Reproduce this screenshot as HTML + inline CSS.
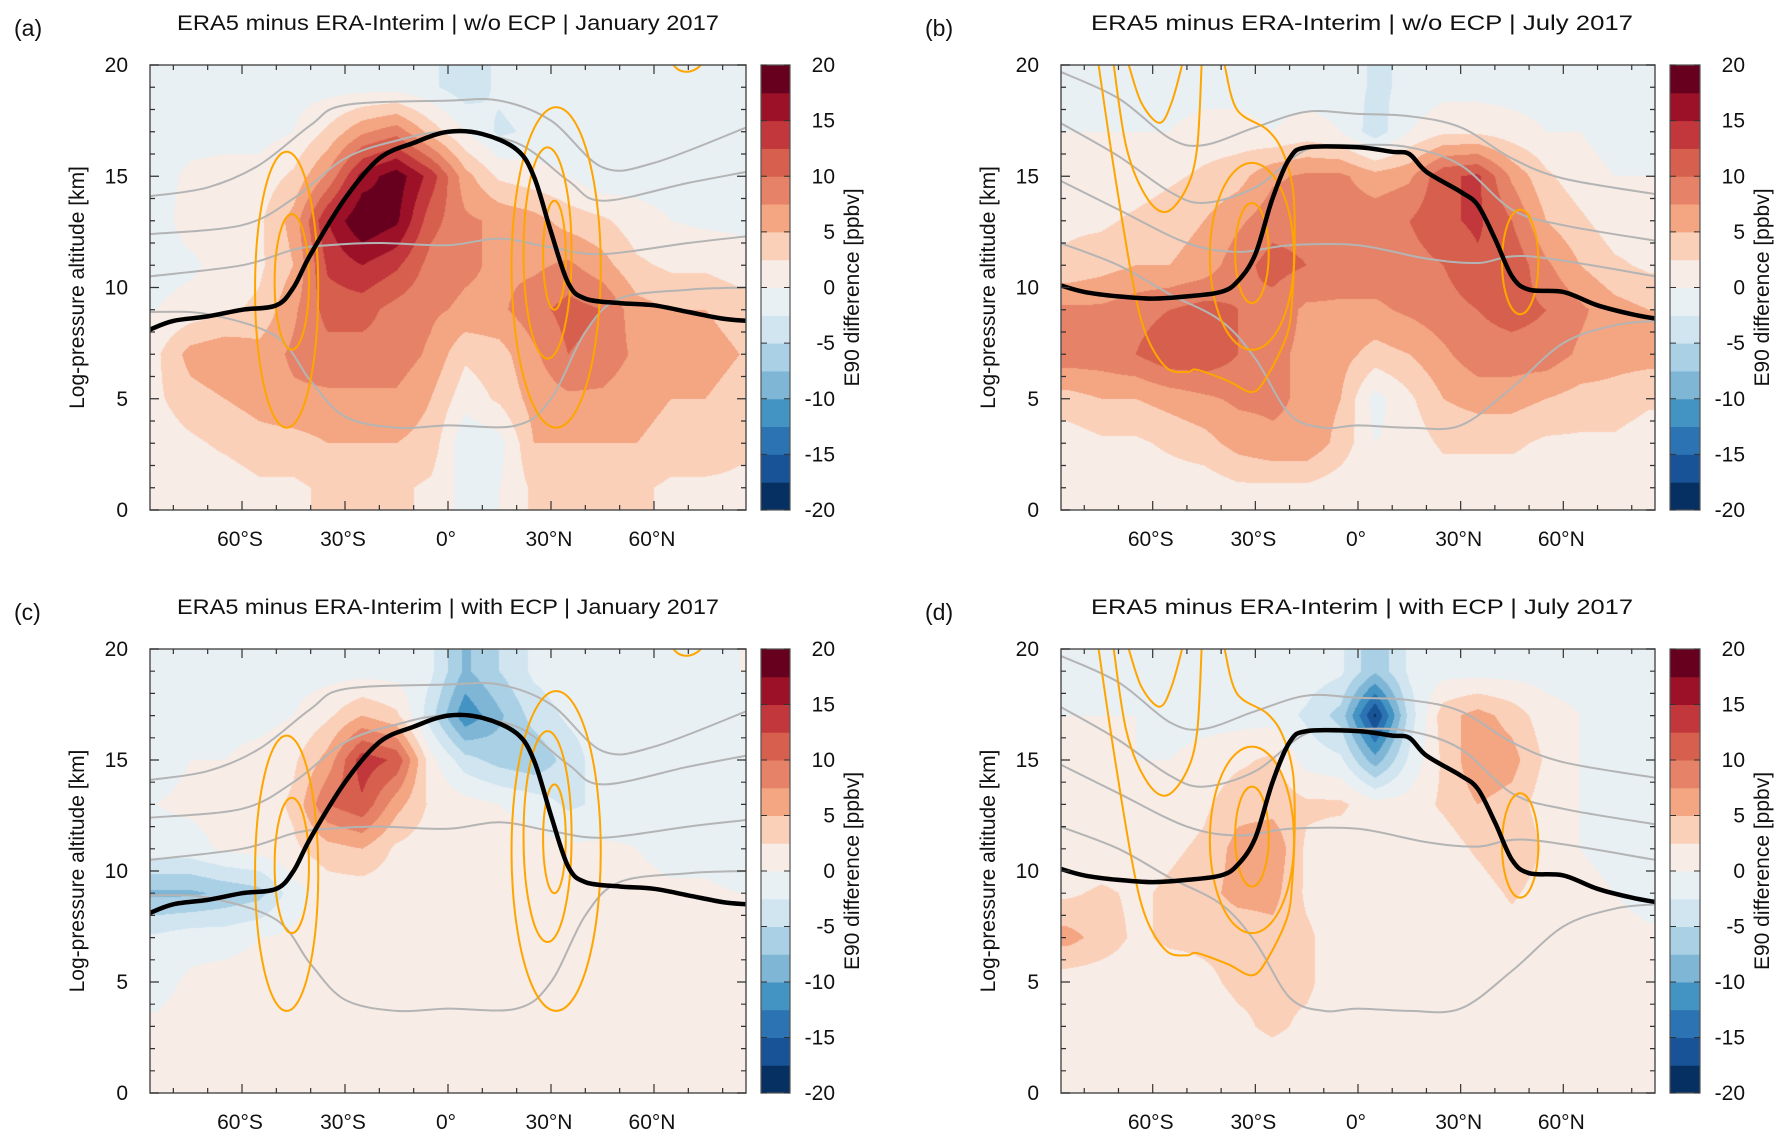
<!DOCTYPE html>
<html><head><meta charset="utf-8"><style>
html,body{margin:0;padding:0;background:#fff;}
#wrap{position:relative;width:1785px;height:1144px;overflow:hidden;}
canvas,svg{position:absolute;left:0;top:0;}
text{font-family:"Liberation Sans",sans-serif;fill:#111;}
</style></head><body>
<div id="wrap">
<canvas id="cv" width="1785" height="1144"></canvas>
<svg id="sv" width="1785" height="1144" xmlns="http://www.w3.org/2000/svg"></svg>
</div>
<script>
// ---- data ----
const latCenters = [-85,-75,-65,-55,-45,-35,-25,-15,-5,5,15,25,35,45,55,65,75,85];
const altRows = [19,17,15,13,11,9,7,5,3,1];
const xTickLabels = ["60°S","30°S","0°","30°N","60°N"];
const xTickValues = [-60,-30,0,30,60];
const yTickValues = [0,5,10,15,20];
const cbarTicks = [20,15,10,5,0,-5,-10,-15,-20];
const levelColors = ["#053061","#175396","#2b73b3","#4393c3","#7fb6d6","#a9d0e4","#d1e5f0","#e8f0f4",
                     "#f7ece6","#fbd0b9","#f4a582","#e58267","#d6604d","#c2373c","#9c1127","#67001f"];
const fieldA = [
[-1,-1,-1,-1,-1,-1,-1,-1,-2,-4,-2,-1,-1,-1,-1,-1,-1,-1],
[-1,-1,-1,-1,0,3,7,9,4,0,-3,-2,-1,-1,-1,-1,-1,-1],
[-1,0.5,1,1,3,8,16,19,14,6,2,1,0,-2,-1,-1,-1,-1],
[-1,1,1,2,6,15,20,18,11,8,7,6,4,3,1,0,-0.5,-0.5],
[-1,-0.5,1,2,5,13,15,13,9,8,7,7,8,6,3,2,2,1],
[0,1,2,3,7,11,11,9,8,7,7,9,11,10,6,5,5,4],
[2,6,7,6,8,9,9,9,7,3,4,7,10,9,7,6,6,5],
[2,4,5,6,7,7,7,7,5,1,3,6,7,7,6,5,5,4],
[1,2,3,4,4,5,5,5,4,-2,-1,5,5,5,5,4,4,3],
[0,1,1,2,2,3,3,3,2,-1,0,3,3,3,3,2,2,2]];
const fieldB = [
[-1,-1,-1,-1,-1,-1,-1,-1,-1,-3,-2,-1,-1,-1,-1,-1,-1,-1],
[0,0,0,0,1,1,0,1,0,-4,0,2,2,1,0,0,-1,-1],
[1,1,1,2,3,4,7,8,8,6,7,12,13,7,3,1,0,0],
[2,2,3,4,5,7,9,9,9,9,10,12,13,10,5,3,1,1],
[3,4,5,5,6,9,11,10,9,9,9,10,12,12,8,5,3,2],
[8,8,9,10,11,10,9,7,7,7,8,9,10,11,10,8,6,5],
[9,9,10,12,12,10,8,7,6,4,5,7,9,9,9,7,6,6],
[4,5,5,6,7,8,8,7,5,-1,2,5,6,6,5,4,4,3],
[1,2,2,3,4,6,7,7,4,0,1,3,3,3,2,2,2,1],
[0,0,1,1,1,2,2,2,1,0,0,1,1,1,1,1,0,0]];
const fieldC = [
[-1,-1,-1,-1,-1,-1,-1,-1,-2,-8,-5,-2,-1,-1,-1,-1,-1,0],
[-1,-1,-1,-1,0,2,5,3,-4,-12,-8,-4,-2,-1,-1,-1,-1,-1],
[-1,0,0,1,2,6,14,12,1,-4,-6,-7,-4,-1,-1,-1,-1,-1],
[0,0.5,1,1,3,10,12,6,2,1,0,-1,-3,-2,-1,-1,-1,-1],
[-1,-1,0.5,1,2,4,5,2,1,1,1,1,0.5,0.5,0,-1,-1,-2],
[-8,-8,-7,-6,-1,1,1,1,1,1,1,1,1,1,1,0.5,0.5,0],
[-2,-1,-1,0,0.5,1,1,1,1,1,1,1,1,1,1,1,1,0],
[-1,0.5,1,1,1,1,1,1,1,1,1,1,1,1,1,1,1,1],
[0.5,1,1,1,1,1,1,1,1,1,1,1,1,1,1,1,1,1],
[1,1,1,1,1,1,1,1,1,1,1,1,1,1,1,1,1,1]];
const fieldD = [
[-1,-1,-1,-1,-1,-1,-1,-1,-2,-7,-2,-1,-1,-1,-1,-1,-1,-1],
[0,0,0,-1,-1,-1,-1,-3,-6,-18,-4,4,6,4,1,0,-1,-1],
[0,0,0,0,1,2,3,-1,-2,-9,-2,3,7,6,2,0,-1,-1],
[0,0.5,1,1,2,4,4,3,3,1,1,3,5,4,1,0,-1,-1],
[0,0.5,1,2,3,6,7,2,1,1,1,1,3,5,2,0,-1,-1],
[2,3,2,3,4,6,6,2,1,1,1,1,1,3,1,1,0,-1],
[6,4,2,3,3,3,4,3,1,1,1,1,1,1,1,1,1,0.5],
[1,1,1,1,2,3,3,3,1,1,1,1,1,1,1,1,0.5,0.5],
[0.5,1,1,1,1,2,3,2,1,1,1,1,1,1,1,1,0.5,0.5],
[0.5,0.5,1,1,1,1,1,1,1,1,1,1,1,1,1,0.5,0.5,0.5]];
// tropopause (black) [lat, alt]
const tropJan = [[-87,8.1],[-80,8.5],[-70,8.7],[-60,9.0],[-50,9.2],[-45,10],[-40,11.5],[-30,14],[-20,15.8],[-10,16.5],[0,17.0],[10,16.9],[20,16.2],[25,15],[30,12.5],[35,10.2],[40,9.5],[50,9.3],[60,9.2],[70,8.9],[80,8.6],[87,8.5]];
const tropJul = [[-87,10.1],[-80,9.8],[-70,9.6],[-60,9.5],[-50,9.6],[-40,9.8],[-35,10.3],[-30,11.5],[-25,14],[-20,15.8],[-15,16.3],[0,16.3],[10,16.1],[15,16.0],[20,15.2],[30,14.3],[35,13.7],[40,12.2],[45,10.5],[50,9.9],[60,9.8],[70,9.2],[80,8.8],[87,8.6]];
// isentropes (grey)
const thetaJan = [
[[-87,14.1],[-70,14.5],[-55,15.5],[-40,17.3],[-30,18.2],[0,18.4],[15,18.4],[30,17.5],[45,15.4],[60,15.6],[87,17.2]],
[[-87,12.4],[-60,12.8],[-45,14],[-30,15.8],[-15,16.6],[0,17.0],[20,16.5],[35,14.8],[45,13.9],[70,14.7],[87,15.2]],
[[-87,10.5],[-60,11],[-45,11.7],[-35,11.9],[-20,12],[0,11.9],[15,12.2],[30,11.8],[45,11.5],[70,12],[87,12.3]],
[[-87,8.9],[-70,8.8],[-50,7.8],[-40,5.8],[-30,4.2],[-15,3.7],[0,3.8],[20,3.8],[30,5],[40,8],[50,9.5],[70,9.9],[87,10.0]]];
const thetaJul = [
[[-87,19.7],[-70,18.5],[-55,16.7],[-45,16.4],[-30,17.2],[-15,17.9],[0,17.8],[15,17.7],[30,17.2],[45,15.8],[60,14.9],[87,14.2]],
[[-87,17.4],[-70,15.9],[-55,14.3],[-45,13.8],[-30,14.5],[-15,16.2],[0,16.4],[15,16.3],[30,15.5],[45,13.5],[60,12.8],[87,12.1]],
[[-87,14.8],[-70,13.5],[-50,12.0],[-35,11.6],[-20,11.9],[0,11.9],[20,11.3],[35,11.1],[50,11.4],[87,10.5]],
[[-87,12.0],[-70,11.0],[-55,9.7],[-40,8.5],[-30,6.8],[-20,4.3],[-10,3.7],[0,3.8],[15,3.7],[30,3.8],[45,5.5],[60,7.5],[75,8.3],[87,8.5]]];
// orange contours: ellipses [lat, alt, halfLat, halfAlt]
const ellJan = [[-47,9.9,9.2,6.2],[-45.5,10.25,5,3.05],[31.5,10.9,13,7.2],[29,11.55,7,4.75],[31,11.45,3.3,2.45]];
const ellJul = [[-31,11.4,12.3,4.2],[-31,11.55,4.9,2.25],[47.4,11.15,5.3,2.35]];
const openJan = [[[64,20.3],[67,19.8],[70,19.7],[73,19.9],[75,20.3]]];
const openJul = [
[[-75.8,20],[-71.4,15.4],[-66,10.4],[-62,7.9],[-56,6.4],[-50,6.2],[-47,6.3],[-38,5.8],[-31,5.3],[-26.6,6.0],[-20.7,7.9],[-19.2,9.6],[-18.5,12.1],[-19,14.4],[-22,16.1],[-26.6,17.1],[-35.4,18],[-39,20]],
[[-71.4,20],[-67.7,16.3],[-62,14.1],[-56,13.4],[-50,14.5],[-47,16.3],[-45.7,20]],
[[-67,20],[-63.3,18.3],[-58,17.4],[-54.5,18.3],[-51.4,20]]];
const titles = ["ERA5 minus ERA-Interim | w/o ECP | January 2017","ERA5 minus ERA-Interim | w/o ECP | July 2017",
                "ERA5 minus ERA-Interim | with ECP | January 2017","ERA5 minus ERA-Interim | with ECP | July 2017"];
const panelLetters = ["(a)","(b)","(c)","(d)"];

// ---- layout ----
const panels = [
 {L:150,R:746,T:65,B:510,cb:761,cbR:790,field:fieldA,trop:tropJan,theta:thetaJan,ell:ellJan,open:openJan,name:"panel-a"},
 {L:1061,R:1655,T:65,B:510,cb:1670,cbR:1700,field:fieldB,trop:tropJul,theta:thetaJul,ell:ellJul,open:openJul,name:"panel-b"},
 {L:150,R:746,T:649,B:1093,cb:761,cbR:790,field:fieldC,trop:tropJan,theta:thetaJan,ell:ellJan,open:openJan,name:"panel-c"},
 {L:1061,R:1655,T:649,B:1093,cb:1670,cbR:1700,field:fieldD,trop:tropJul,theta:thetaJul,ell:ellJul,open:openJul,name:"panel-d"}];
const LATMIN=-86.8, LATMAX=86.8;
const NS="http://www.w3.org/2000/svg";
const svg=document.getElementById('sv');
function el(tag,attrs,parent){const e=document.createElementNS(NS,tag);for(const k in attrs)e.setAttribute(k,attrs[k]);(parent||svg).appendChild(e);return e;}
function hex(c){return [parseInt(c.substr(1,2),16),parseInt(c.substr(3,2),16),parseInt(c.substr(5,2),16)];}
const rgbLevels=levelColors.map(hex);
function sample(field,lat,alt){
  let fx=(lat-latCenters[0])/10, fy=(altRows[0]-alt)/2;
  fx=Math.max(0,Math.min(latCenters.length-1,fx)); fy=Math.max(0,Math.min(altRows.length-1,fy));
  const x0=Math.floor(fx),y0=Math.floor(fy),x1=Math.min(x0+1,latCenters.length-1),y1=Math.min(y0+1,altRows.length-1);
  const tx=fx-x0,ty=fy-y0;
  const a=field[y0][x0]*(1-tx)+field[y0][x1]*tx, b=field[y1][x0]*(1-tx)+field[y1][x1]*tx;
  return a*(1-ty)+b*ty;
}
function catmull(pts){
  let d="M"+pts[0][0].toFixed(1)+","+pts[0][1].toFixed(1);
  for(let i=0;i<pts.length-1;i++){
    const p0=pts[Math.max(i-1,0)],p1=pts[i],p2=pts[i+1],p3=pts[Math.min(i+2,pts.length-1)];
    const c1=[p1[0]+(p2[0]-p0[0])/6,p1[1]+(p2[1]-p0[1])/6],c2=[p2[0]-(p3[0]-p1[0])/6,p2[1]-(p3[1]-p1[1])/6];
    d+="C"+c1[0].toFixed(1)+","+c1[1].toFixed(1)+" "+c2[0].toFixed(1)+","+c2[1].toFixed(1)+" "+p2[0].toFixed(1)+","+p2[1].toFixed(1);
  }
  return d;
}
const ctx=document.getElementById('cv').getContext('2d');
const img=ctx.createImageData(1785,1144);
for(let i=0;i<img.data.length;i+=4){img.data[i]=255;img.data[i+1]=255;img.data[i+2]=255;img.data[i+3]=255;}

panels.forEach((p,pi)=>{
  const xs=lat=>p.L+(lat-LATMIN)/(LATMAX-LATMIN)*(p.R-p.L);
  const ys=alt=>p.B-alt/20*(p.B-p.T);
  for(let py=p.T;py<p.B;py++){
    const alt=(p.B-py-0.5)/(p.B-p.T)*20;
    for(let px=p.L;px<p.R;px++){
      const lat=LATMIN+(px-p.L+0.5)/(p.R-p.L)*(LATMAX-LATMIN);
      const v=sample(p.field,lat,alt);
      let k=Math.floor((v+20)/2.5);if(k<0)k=0;if(k>15)k=15;
      const c=rgbLevels[k],o=(py*1785+px)*4;
      img.data[o]=c[0];img.data[o+1]=c[1];img.data[o+2]=c[2];
    }
  }
  const g=el('g',{});
  
  
  const clipId='clip'+pi;
  const cp=el('clipPath',{id:clipId},g);
  el('rect',{x:p.L,y:p.T,width:p.R-p.L,height:p.B-p.T},cp);
  const lines=el('g',{'clip-path':'url(#'+clipId+')'},g);
  
  
  p.theta.forEach((ln,li)=>{
    const path=el('path',{d:catmull(ln.map(q=>[xs(q[0]),ys(q[1])])),fill:'none',stroke:'#b4b4b4','stroke-width':2},lines);
    
    
  });
  p.ell.forEach((e,ei)=>{
    const sx=(p.R-p.L)/(LATMAX-LATMIN), sy=(p.B-p.T)/20;
    const c=el('ellipse',{cx:xs(e[0]),cy:ys(e[1]),rx:e[2]*sx,ry:e[3]*sy,fill:'none',stroke:'#ffa500','stroke-width':2},lines);
    
    
  });
  p.open.forEach((ln,li)=>{
    const path=el('path',{d:catmull(ln.map(q=>[xs(q[0]),ys(q[1])])),fill:'none',stroke:'#ffa500','stroke-width':2},lines);
    
    
  });
  const tp=el('path',{d:catmull(p.trop.map(q=>[xs(q[0]),ys(q[1])])),fill:'none',stroke:'#000','stroke-width':4.5,'stroke-linejoin':'round'},lines);
  
  
  const fr=el('rect',{x:p.L,y:p.T,width:p.R-p.L,height:p.B-p.T,fill:'none',stroke:'#555','stroke-width':1.5},g);
  
  
  let td="";
  for(let a=0;a<=20;a++){const y=ys(a),len=(a%5==0)?9:5;td+=`M${p.L},${y}h${len}M${p.R},${y}h${-len}`;}
  for(let lat=-80;lat<=80;lat+=10){const x=xs(lat),len=(lat%30==0)?9:5;td+=`M${x},${p.B}v${-len}M${x},${p.T}v${len}`;}
  const tk=el('path',{d:td,stroke:'#333','stroke-width':1.2,fill:'none'},g);
  
  
  yTickValues.forEach(v=>{
    const t=el('text',{x:p.L-22,y:ys(v)+7,'text-anchor':'end','font-size':21},g);t.textContent=v;
    
    
  });
  xTickValues.forEach((v,i)=>{
    const t=el('text',{x:xs(v)-2,y:p.B+36,'text-anchor':'middle','font-size':21},g);t.textContent=xTickLabels[i];
    
    
  });
  const yt=el('text',{x:0,y:0,'text-anchor':'middle','font-size':21,transform:`translate(${p.L-66},${(p.T+p.B)/2}) rotate(-90)`},g);
  yt.textContent="Log-pressure altitude [km]";
  
  
  const tt=el('text',{x:(p.L+p.R)/2+(pi%2==1?4:0),y:p.T-35,'text-anchor':'middle','font-size':21,textLength:542,lengthAdjust:'spacingAndGlyphs'},g);
  tt.textContent=titles[pi];
  
  
  const pl=el('text',{x:p.L-136,y:p.T-29,'font-size':23},g);
  pl.textContent=panelLetters[pi];
  
  
  const cbg=el('g',{},g);
  
  
  const h=(p.B-p.T)/16;
  levelColors.forEach((c,i)=>{
    const r=el('rect',{x:p.cb,y:p.B-(i+1)*h,width:p.cbR-p.cb,height:h+0.5,fill:c},cbg);
    
    
  });
  el('rect',{x:p.cb,y:p.T,width:p.cbR-p.cb,height:p.B-p.T,fill:'none',stroke:'#555','stroke-width':1.2},cbg);
  cbarTicks.forEach(v=>{
    const y=p.B-(v+20)/40*(p.B-p.T);
    el('path',{d:`M${p.cb},${y}h6M${p.cbR},${y}h-6`,stroke:'#333','stroke-width':1},cbg);
    const t=el('text',{x:p.cbR+45,y:y+7,'text-anchor':'end','font-size':21},cbg);t.textContent=v;
    
    
  });
  const ct=el('text',{x:0,y:0,'text-anchor':'middle','font-size':21,transform:`translate(${p.cbR+69},${(p.T+p.B)/2}) rotate(-90)`},cbg);
  ct.textContent="E90 difference [ppbv]";
  
  
});
ctx.putImageData(img,0,0);
</script>
</body></html>
